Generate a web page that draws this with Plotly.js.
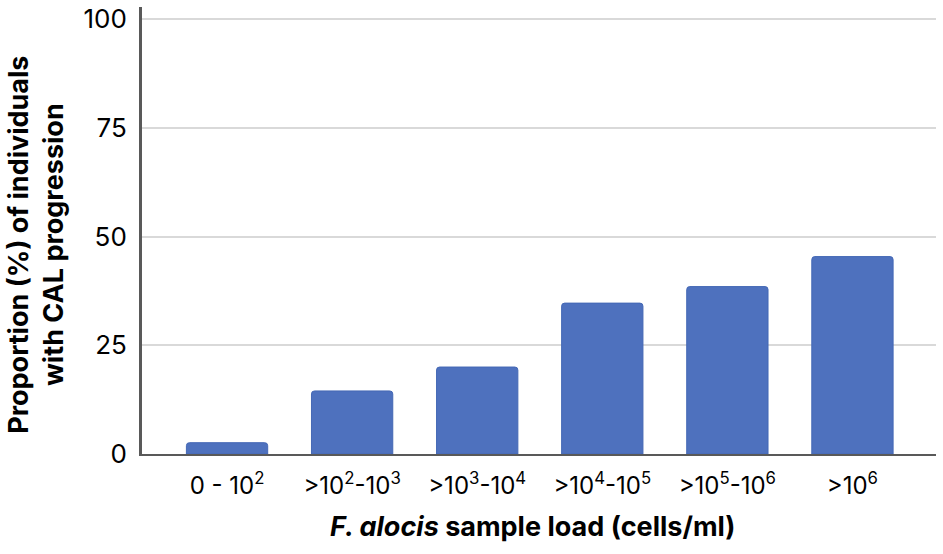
<!DOCTYPE html>
<html>
<head>
<meta charset="utf-8">
<script src="https://cdn.plot.ly/plotly-3.0.1.min.js"></script>
<style>
  html, body { margin: 0; padding: 0; background: #fff; }
  #chart { width: 943px; height: 554px; }
</style>
</head>
<body>
<div id="chart"></div>
<script>
// F. alocis load vs CAL progression
var loadBins = ["0-1e2", "1e2-1e3", "1e3-1e4", "1e4-1e5", "1e5-1e6", ">1e6"];
var binLabels = ["0 - 10<sup>2</sup>", ">10<sup>2</sup>-10<sup>3</sup>", ">10<sup>3</sup>-10<sup>4</sup>",
                 ">10<sup>4</sup>-10<sup>5</sup>", ">10<sup>5</sup>-10<sup>6</sup>", ">10<sup>6</sup>"];
var progression = [2.6, 14.5, 20.0, 34.7, 38.5, 45.4];
var yTicks = [0, 25, 50, 75, 100];

var font = 'Inter, "Liberation Sans", Arial, sans-serif';

var trace1 = {
  x: loadBins,
  y: progression,
  type: 'bar',
  width: 0.65,
  marker: {
    color: '#4E71BE',
    cornerradius: 3,
    line: { color: '#4468B5', width: 1 }
  },
  hovertemplate: '%{y:.1f}%<extra></extra>'
};

var layout = {
  width: 943,
  height: 554,
  margin: { l: 142, r: 7, t: 7, b: 100 },
  paper_bgcolor: '#fff',
  plot_bgcolor: '#fff',
  showlegend: false,
  font: { family: font, color: '#000' },
  xaxis: {
    type: 'category',
    range: [-0.68, 5.668],
    tickvals: loadBins,
    ticktext: binLabels,
    tickfont: { family: font, size: 24, color: '#000' },
    ticklabelstandoff: 9,
    showgrid: false,
    showline: true,
    linecolor: '#595959',
    linewidth: 2,
    zeroline: false,
    fixedrange: true
  },
  yaxis: {
    range: [0, 102.8],
    tickvals: yTicks,
    tickfont: { family: font, size: 26, color: '#000' },
    ticklabelstandoff: 7,
    showgrid: true,
    gridcolor: '#D9D9D9',
    gridwidth: 2,
    showline: true,
    linecolor: '#595959',
    linewidth: 3,
    zeroline: false,
    fixedrange: true
  },
  annotations: [
    {
      text: '<b>Proportion (%) of individuals<br>with CAL progression</b>',
      xref: 'paper', yref: 'paper',
      x: -0.1335, y: 0.468,
      xanchor: 'center', yanchor: 'middle',
      textangle: -90,
      showarrow: false,
      font: { family: font, size: 27, color: '#000' }
    },
    {
      text: '<b><i>F. alocis</i> sample load (cells/ml)</b>',
      xref: 'paper', yref: 'paper',
      x: 0.4924, y: -0.163,
      xanchor: 'center', yanchor: 'middle',
      showarrow: false,
      font: { family: font, size: 27, color: '#000' }
    }
  ]
};

Plotly.newPlot('chart', [trace1], layout, { displayModeBar: false, staticPlot: true });
</script>
</body>
</html>
